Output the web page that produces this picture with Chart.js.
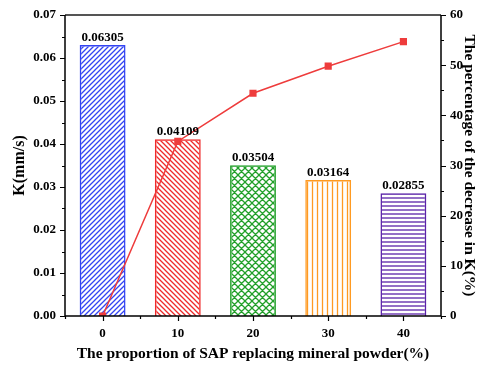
<!DOCTYPE html>
<html>
<head>
<meta charset="utf-8">
<script src="https://cdn.jsdelivr.net/npm/chart.js@4/dist/chart.umd.min.js"></script>
<style>
  html, body { margin: 0; padding: 0; background: #fff; }
  #wrap { width: 482px; height: 367px; }
</style>
</head>
<body>
<div id="wrap"><canvas id="kChart" width="482" height="367"></canvas></div>
<script>
// data
const categories = ['0', '10', '20', '30', '40'];
const kValues = [0.06305, 0.04109, 0.03504, 0.03164, 0.02855];
const kLabels = ['0.06305', '0.04109', '0.03504', '0.03164', '0.02855'];
const decreasePct = [0, 34.8, 44.4, 49.8, 54.7];

const barColors = ['#3344f2', '#ee2a2a', '#22a02a', '#ff9a22', '#5a22a8'];
const hatchKinds = ['/', '\\', 'x', '|', '-'];
const FONT = '"Liberation Serif", "Times New Roman", serif';

function hatch(color, kind, s) {
    const c = document.createElement('canvas');
    c.width = c.height = s;
    const g = c.getContext('2d');
    g.strokeStyle = color;
    g.lineWidth = 1.3;
    g.beginPath();
    if (kind === '/' || kind === 'x') {
        g.moveTo(0, s); g.lineTo(s, 0);
        g.moveTo(-1, 1); g.lineTo(1, -1);
        g.moveTo(s - 1, s + 1); g.lineTo(s + 1, s - 1);
    }
    if (kind === '\\' || kind === 'x') {
        g.moveTo(0, 0); g.lineTo(s, s);
        g.moveTo(s - 1, -1); g.lineTo(s + 1, 1);
        g.moveTo(-1, s - 1); g.lineTo(1, s + 1);
    }
    if (kind === '|') { g.moveTo(s / 2, 0); g.lineTo(s / 2, s); }
    if (kind === '-') { g.moveTo(0, s / 2); g.lineTo(s, s / 2); }
    g.stroke();
    return g.createPattern(c, 'repeat');
}
const hatchSize = { '/': 5, '\\': 5, 'x': 7, '|': 5, '-': 4 };
const barFills = barColors.map((c, i) => hatch(c, hatchKinds[i], hatchSize[hatchKinds[i]]));

// ticks, frame and value labels
const decor = {
    id: 'decor',
    afterDraw(chart) {
        const ctx = chart.ctx, a = chart.chartArea;
        const x = chart.scales.x, yl = chart.scales.y, yr = chart.scales.y1;
        ctx.save();
        // value labels
        const meta = chart.getDatasetMeta(1);
        ctx.font = 'bold 13px ' + FONT;
        ctx.fillStyle = '#000';
        ctx.textAlign = 'center';
        ctx.textBaseline = 'bottom';
        meta.data.forEach((bar, i) => ctx.fillText(kLabels[i], bar.x, bar.y - 1));

        // frame
        ctx.lineWidth = 2;
        ctx.strokeStyle = '#555';
        ctx.beginPath(); ctx.moveTo(a.left, a.top); ctx.lineTo(a.right, a.top); ctx.stroke();
        ctx.strokeStyle = '#000';
        ctx.lineWidth = 1.5;
        ctx.beginPath();
        ctx.moveTo(a.left, a.top); ctx.lineTo(a.left, a.bottom); ctx.lineTo(a.right, a.bottom); ctx.lineTo(a.right, a.top);
        ctx.stroke();

        ctx.lineWidth = 1.2;
        ctx.beginPath();
        for (let v = 0; v <= 0.07001; v += 0.005) {
            const py = Math.round(yl.getPixelForValue(v)) + 0.5;
            const major = Math.abs(v / 0.01 - Math.round(v / 0.01)) < 1e-6;
            ctx.moveTo(a.left, py); ctx.lineTo(a.left - (major ? 5 : 3), py);
        }
        for (let v = 0; v <= 60; v += 5) {
            const py = Math.round(yr.getPixelForValue(v)) + 0.5;
            ctx.moveTo(a.right, py); ctx.lineTo(a.right + (v % 10 === 0 ? 5 : 3), py);
        }
        const step = (a.right - a.left) / categories.length;
        for (let i = 0; i <= categories.length; i++) {
            const px = Math.round(a.left + i * step) + 0.5;
            ctx.moveTo(px, a.bottom); ctx.lineTo(px, a.bottom + 3);
        }
        categories.forEach((c, i) => {
            const px = Math.round(x.getPixelForValue(i)) + 0.5;
            ctx.moveTo(px, a.bottom); ctx.lineTo(px, a.bottom + 5);
        });
        ctx.stroke();
        ctx.restore();
    }
};

new Chart('kChart', {
    data: {
        labels: categories,
        datasets: [{
            type: 'line',
            label: 'decrease',
            data: decreasePct,
            yAxisID: 'y1',
            borderColor: '#ee3c3c',
            backgroundColor: '#ee3c3c',
            borderWidth: 1.5,
            pointStyle: 'rect',
            pointRadius: 4,
            order: 0
        }, {
            type: 'bar',
            label: 'K',
            data: kValues,
            yAxisID: 'y',
            backgroundColor: barFills,
            borderColor: barColors,
            borderWidth: 1.5,
            categoryPercentage: 1,
            barPercentage: 0.61,
            order: 1
        }]
    },
    options: {
        responsive: false,
        animation: false,
        events: [],
        layout: { padding: { top: 15, left: 0, right: 0, bottom: 0 } },
        plugins: { legend: { display: false }, tooltip: { enabled: false } },
        scales: {
            x: {
                offset: true,
                grid: { display: false, drawTicks: true, tickLength: 5 },
                border: { display: false },
                ticks: { color: '#000', font: { family: FONT, size: 13, weight: 'bold' }, padding: 5 },
                title: { display: true, text: 'The proportion of SAP replacing mineral powder(%)', color: '#000',
                         font: { family: FONT, size: 15.5, weight: 'bold' }, padding: { top: 8 } },
                afterFit(s) { s.height = 51; }
            },
            y: {
                position: 'left',
                min: 0, max: 0.07,
                grid: { display: false, drawTicks: true, tickLength: 5 },
                border: { display: false },
                ticks: { stepSize: 0.01, color: '#000', font: { family: FONT, size: 13, weight: 'bold' },
                         padding: 4, callback: v => v.toFixed(2) },
                title: { display: true, text: 'K(mm/s)', color: '#000', font: { family: FONT, size: 16, weight: 'bold' },
                         padding: { top: 10, bottom: 4 } },
                afterFit(s) { s.width = 65; }
            },
            y1: {
                position: 'right',
                min: 0, max: 60,
                grid: { display: false, drawTicks: true, tickLength: 5 },
                border: { display: false },
                ticks: { stepSize: 10, color: '#000', font: { family: FONT, size: 13, weight: 'bold' }, padding: 4 },
                title: { display: true, text: 'The percentage of the decrease in K(%)', color: '#000',
                         font: { family: FONT, size: 15.5, weight: 'bold' }, padding: { top: 4, bottom: 4 } },
                afterFit(s) { s.width = 41; }
            }
        }
    },
    plugins: [decor]
});
</script>
</body>
</html>
